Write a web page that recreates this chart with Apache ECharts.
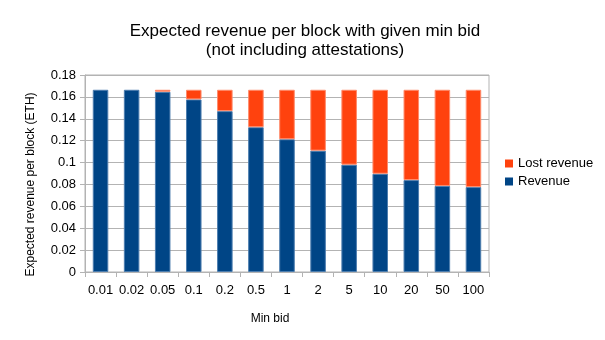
<!DOCTYPE html>
<html><head><meta charset="utf-8">
<script src="https://cdn.jsdelivr.net/npm/echarts@6/dist/echarts.min.js"></script>
<style>html,body{margin:0;padding:0;background:#fff}#c{width:605px;height:340px}</style>
</head><body><div id="c"></div>
<script>
const categories = ['0.01','0.02','0.05','0.1','0.2','0.5','1','2','5','10','20','50','100'];
const revenue = [0.1665,0.1665,0.1647,0.1577,0.147,0.1323,0.1213,0.1109,0.0981,0.0898,0.084,0.0786,0.0776];
const lostRevenue = [null,null,0.0018,0.0088,0.0195,0.0342,0.0452,0.0556,0.0684,0.0767,0.0825,0.0879,0.0889];
const yTicks = [0,0.02,0.04,0.06,0.08,0.1,0.12,0.14,0.16,0.18];

const chart = echarts.init(document.getElementById('c'), null, {renderer:'canvas'});
const font = 'Liberation Sans';
chart.setOption({
  animation:false,
  backgroundColor:'#fff',
  title:{
    text:'Expected revenue per block with given min bid\n(not including attestations)',
    left:300, top:17, textAlign:'center',
    textStyle:{fontFamily:font,fontSize:17,fontWeight:'normal',color:'#000',lineHeight:19}
  },
  legend:{
    orient:'vertical', left:500, top:152, itemWidth:8, itemHeight:8, itemGap:5,
    icon:'rect',
    itemStyle:{borderWidth:0},
    textStyle:{fontFamily:font,fontSize:13,color:'#000'},
    data:['Lost revenue','Revenue']
  },
  grid:{left:85,right:116,top:75,bottom:68,show:true,borderColor:'#b3b3b3',borderWidth:1},
  xAxis:{
    type:'category', data:categories,
    name:'Min bid', nameLocation:'middle', nameGap:41,
    nameTextStyle:{fontFamily:font,fontSize:12,color:'#000',padding:[0,34,0,0]},
    axisLine:{lineStyle:{color:'#b3b3b3'}},
    axisTick:{show:true,length:5,lineStyle:{color:'#b3b3b3'}},
    axisLabel:{interval:0,fontFamily:font,fontSize:13,color:'#000',margin:12}
  },
  yAxis:{
    type:'value', min:0, max:0.18, interval:0.02,
    name:'Expected revenue per block (ETH)', nameLocation:'middle', nameGap:48,
    nameTextStyle:{fontFamily:font,fontSize:12,color:'#000',padding:[0,22,0,0]},
    axisLine:{show:true,lineStyle:{color:'#b3b3b3'}},
    axisTick:{show:true,length:5,lineStyle:{color:'#b3b3b3'}},
    splitLine:{lineStyle:{color:'#b3b3b3'}},
    axisLabel:{fontFamily:font,fontSize:13,color:'#000',margin:9,
      formatter:function(v){return String(Math.round(v*100)/100);}}
  },
  series:[
    {name:'Revenue',type:'bar',stack:'a',data:revenue,barWidth:'50%',
     itemStyle:{color:'#004586',borderColor:'#4d7eaf',borderWidth:1}},
    {name:'Lost revenue',type:'bar',stack:'a',data:lostRevenue,barWidth:'50%',
     itemStyle:{color:'#ff420e',borderColor:'#ff8a6a',borderWidth:1}}
  ]
});
</script></body></html>
